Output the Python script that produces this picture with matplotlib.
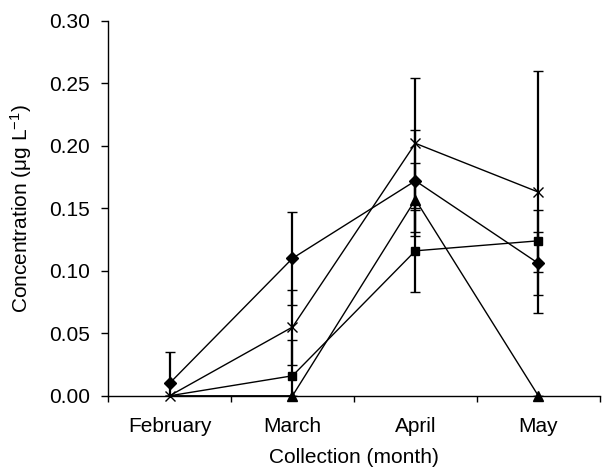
import numpy as np
import matplotlib
matplotlib.use('Agg')
import matplotlib.pyplot as plt

plt.rcParams['font.family'] = ['Liberation Sans', 'DejaVu Sans']
plt.rcParams['mathtext.fontset'] = 'custom'
plt.rcParams['mathtext.rm'] = 'Liberation Sans'
plt.rcParams['mathtext.it'] = 'Liberation Sans'
plt.rcParams['mathtext.default'] = 'regular'

months = ['February', 'March', 'April', 'May']

# series values and error bars
diamond = [0.010, 0.110, 0.172, 0.106]
diamond_err = [0.025, 0.037, 0.041, 0.025]
cross = [0.0, 0.055, 0.202, 0.163]
cross_err = [0.0, 0.030, 0.052, 0.097]
square = [0.0, 0.016, 0.116, 0.124]
square_err = [0.0, 0.029, 0.033, 0.025]
triangle = [0.0, 0.0, 0.157, 0.0]
triangle_err = [0.0, 0.0, 0.029, 0.0]

x = np.arange(len(months))

fig = plt.figure(figsize=(6.04, 4.74), dpi=100)
ax = fig.add_axes([0.179, 0.165, 0.814, 0.791])

ebkw = dict(color='black', lw=1.0, elinewidth=1.6, capsize=3.5, capthick=1.0)
eb = ax.errorbar(x, triangle, yerr=triangle_err, marker='^', ms=7, mfc='black', mec='black',
                 markevery=[1, 2, 3], **ebkw)
eb[0].set_clip_on(False)
eb = ax.errorbar(x, square, yerr=square_err, marker='s', ms=6, mfc='black', mec='black',
                 markevery=[1, 2, 3], **ebkw)
eb[0].set_clip_on(False)
eb = ax.errorbar(x, diamond, yerr=diamond_err, marker='D', ms=6.5, mfc='black', mec='black', **ebkw)
eb[0].set_clip_on(False)
eb = ax.errorbar(x, cross, yerr=cross_err, marker='x', ms=7, mew=1.0, mfc='none', mec='black', **ebkw)
eb[0].set_clip_on(False)

ax.set_xlim(-0.5, 3.42)
ax.set_ylim(0, 0.30)
ax.set_yticks(np.arange(0, 0.301, 0.05))
ax.set_yticklabels([f'{v:.2f}' for v in np.arange(0, 0.301, 0.05)])
ax.set_xticks(x)
ax.set_xticklabels(months)
ax.set_xticks(np.arange(-0.5, 3.6, 1), minor=True)

ax.tick_params(axis='x', which='major', length=0, pad=15, labelsize=15)
ax.tick_params(axis='x', which='minor', length=4.5, direction='out', width=1.0)
ax.tick_params(axis='y', length=5, direction='out', width=1.0, pad=8, labelsize=15)

for s in ['top', 'right']:
    ax.spines[s].set_visible(False)
for s in ['left', 'bottom']:
    ax.spines[s].set_linewidth(1.0)

ax.set_xlabel('Collection (month)', fontsize=15, labelpad=9)
ax.set_ylabel('Concentration (μg L$^{−1}$)', fontsize=15, labelpad=11)

fig.savefig('out.png', dpi=100)
